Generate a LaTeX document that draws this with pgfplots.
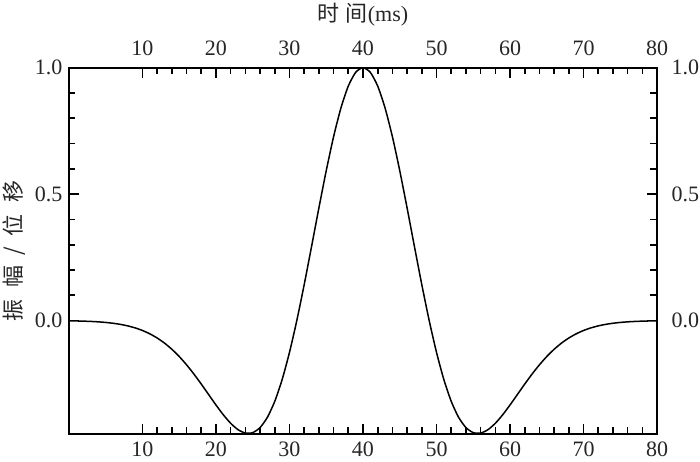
\documentclass[border=0pt]{standalone}
\usepackage{pgfplots}
\pgfplotsset{compat=1.18}
\usepackage{pgfplotstable}
\usepackage{fontspec}
\setmainfont{Liberation Serif}
\newfontfamily\cjk{Noto Sans CJK SC}

% Ricker wavelet, 25 Hz, centred at 40 ms
\pgfplotstableread{
t y
0 -0.00097
1 -0.00150
2 -0.00228
3 -0.00341
4 -0.00505
5 -0.00737
6 -0.01061
7 -0.01504
8 -0.02101
9 -0.02891
10 -0.03917
11 -0.05232
12 -0.06881
13 -0.08907
14 -0.11341
15 -0.14203
16 -0.17482
17 -0.21139
18 -0.25101
19 -0.29238
20 -0.33366
21 -0.37256
22 -0.40620
23 -0.43147
24 -0.44496
25 -0.44326
26 -0.42327
27 -0.38252
28 -0.31945
29 -0.23361
30 -0.12611
31 0.00043
32 0.14180
33 0.29233
34 0.44517
35 0.59274
36 0.72718
37 0.84096
38 0.92748
39 0.98159
40 1.00000
41 0.98159
42 0.92748
43 0.84096
44 0.72718
45 0.59274
46 0.44517
47 0.29233
48 0.14180
49 0.00043
50 -0.12611
51 -0.23361
52 -0.31945
53 -0.38252
54 -0.42327
55 -0.44326
56 -0.44496
57 -0.43147
58 -0.40620
59 -0.37256
60 -0.33366
61 -0.29238
62 -0.25101
63 -0.21139
64 -0.17482
65 -0.14203
66 -0.11341
67 -0.08907
68 -0.06881
69 -0.05232
70 -0.03917
71 -0.02891
72 -0.02101
73 -0.01504
74 -0.01061
75 -0.00737
76 -0.00505
77 -0.00341
78 -0.00228
79 -0.00150
80 -0.00097
}\wavelet

\pgfplotsset{
  common/.style={
    scale only axis,
    width=294pt, height=183pt,
    xmin=0, xmax=80, ymin=-0.448, ymax=1,
    xtick={10,20,...,80}, minor x tick num=4,
    ytick={0,0.5,1}, minor y tick num=4,
    tick align=inside,
    major tick length=5pt, minor tick length=3.3pt,
    axis line style={line width=0.9pt},
    every tick/.style={black, line width=0.8pt},
    ticklabel style={font=\fontsize{11}{13}\selectfont, text=black!85, inner sep=0pt},
    label style={font=\fontsize{11}{13}\selectfont, text=black!85, inner sep=0pt},
    /pgf/number format/assume math mode=true,
    yticklabel style={/pgf/number format/fixed,
      /pgf/number format/fixed zerofill,
      /pgf/number format/precision=1},
  }
}

\begin{document}
\begin{tikzpicture}
\begin{axis}[common,
    xticklabel pos=lower, yticklabel pos=left,
    xticklabel style={yshift=-4pt},
    yticklabel style={xshift=-3pt},
    ylabel={\cjk 振\hspace{6pt}幅\hspace{5pt}/\hspace{5pt}位\hspace{6pt}移},
    ylabel style={yshift=4.5pt},
]
\addplot[black, line width=0.75pt, smooth, tension=0.4] table[x=t, y=y] {\wavelet};
\end{axis}
\begin{axis}[common,
    xticklabel pos=upper, yticklabel pos=right,
    xticklabel style={yshift=6pt},
    yticklabel style={xshift=7pt},
    xlabel={{\cjk 时\hspace{3pt}间}(ms)},
    xlabel style={yshift=7pt},
]
\end{axis}
\path ([shift={(-1.5pt,-2pt)}]current bounding box.south west)
      ([shift={(0.5pt,1.5pt)}]current bounding box.north east);
\end{tikzpicture}
\end{document}
